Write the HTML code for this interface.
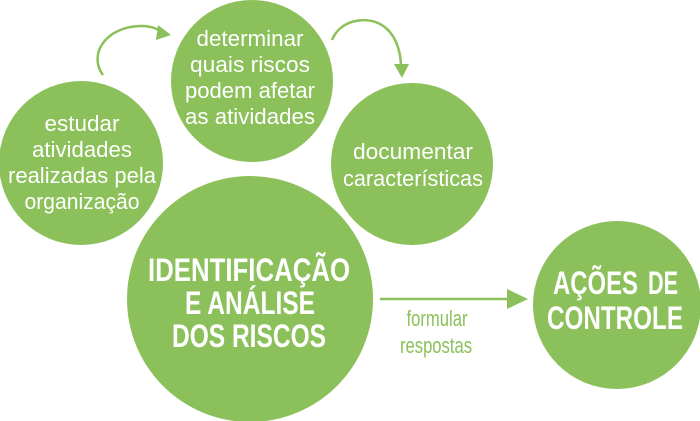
<!DOCTYPE html>
<html><head><meta charset="utf-8"><style>
html,body{margin:0;padding:0;background:#fff}
svg{display:block}
text{font-family:"Liberation Sans Narrow","Liberation Sans",sans-serif}
.s{fill:#fff;font-size:22px}
.b{fill:#fff;font-size:32px;font-weight:bold}
</style></head><body>
<svg width="700" height="421" viewBox="0 0 700 421" xmlns="http://www.w3.org/2000/svg">
<g fill="#8bc05a">
<circle cx="81" cy="163" r="82"/>
<circle cx="252" cy="81" r="81"/>
<circle cx="412" cy="164" r="81"/>
<circle cx="250" cy="299" r="123"/>
<circle cx="617" cy="305" r="84"/>
</g>
<g fill="none" stroke="#8bc05a" stroke-width="2.5">
<path d="M103 75 C 88 55, 105 26, 142 26 C 152 26, 160 30, 164 33"/>
<path d="M332 40 C 340 20, 365 16, 380 24 C 395 32, 401 50, 401 68"/>
<path d="M380 299 L510 299"/>
</g>
<g fill="#8bc05a">
<path d="M171 35 L158 25 L156 40 Z"/>
<path d="M402 78 L394 64 L409 64 Z"/>
<path d="M528 299 L507 289 L507 309 Z"/>
</g>
<g>
<text class="s" x="44.5" y="131" textLength="75" lengthAdjust="spacingAndGlyphs">estudar</text>
<text class="s" x="32" y="157" textLength="100" lengthAdjust="spacingAndGlyphs">atividades</text>
<text class="s" x="8" y="183" textLength="148" lengthAdjust="spacingAndGlyphs">realizadas pela</text>
<text class="s" x="24.5" y="209" textLength="115" lengthAdjust="spacingAndGlyphs">organização</text>
<text class="s" x="196.5" y="46" textLength="107" lengthAdjust="spacingAndGlyphs">determinar</text>
<text class="s" x="190" y="72" textLength="120" lengthAdjust="spacingAndGlyphs">quais riscos</text>
<text class="s" x="185" y="98" textLength="130" lengthAdjust="spacingAndGlyphs">podem afetar</text>
<text class="s" x="185" y="124" textLength="130" lengthAdjust="spacingAndGlyphs">as atividades</text>
<text class="s" x="353" y="159" textLength="120" lengthAdjust="spacingAndGlyphs">documentar</text>
<text class="s" x="343" y="186" textLength="140" lengthAdjust="spacingAndGlyphs">características</text>
<text class="b" x="148" y="281" textLength="202" lengthAdjust="spacingAndGlyphs">IDENTIFICAÇÃO</text>
<text class="b" x="185" y="314" textLength="130" lengthAdjust="spacingAndGlyphs">E ANÁLISE</text>
<text class="b" x="172" y="347" textLength="154" lengthAdjust="spacingAndGlyphs">DOS RISCOS</text>
<text class="b" x="553" y="294" textLength="85" lengthAdjust="spacingAndGlyphs">AÇÕES</text>
<text class="b" x="648" y="294" textLength="30" lengthAdjust="spacingAndGlyphs">DE</text>
<text class="b" x="547" y="329" textLength="136" lengthAdjust="spacingAndGlyphs">CONTROLE</text>
<text x="406.5" y="326" fill="#8bc05a" font-size="22" textLength="61" lengthAdjust="spacingAndGlyphs">formular</text>
<text x="400" y="353" fill="#8bc05a" font-size="22" textLength="72" lengthAdjust="spacingAndGlyphs">respostas</text>
</g>
</svg>
</body></html>
